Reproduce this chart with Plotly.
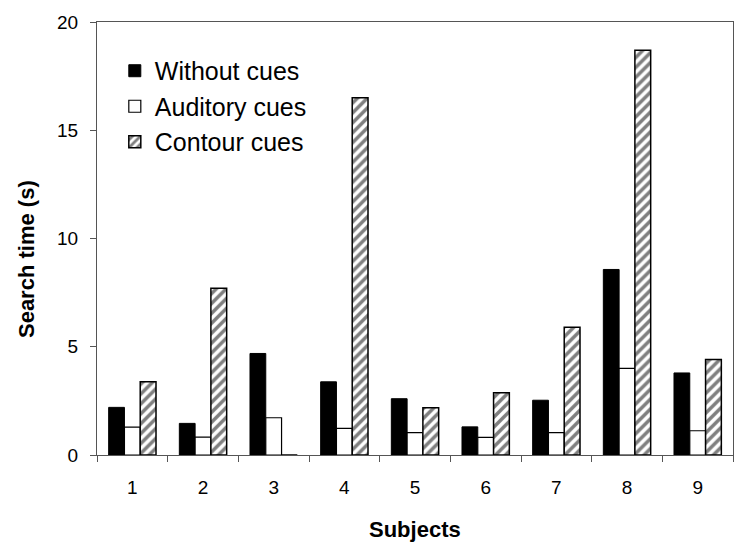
import plotly.graph_objects as go

subjects = ["1", "2", "3", "4", "5", "6", "7", "8", "9"]
without_cues = [2.2, 1.46, 4.69, 3.38, 2.6, 1.3, 2.53, 8.57, 3.79]
auditory_cues = [1.29, 0.83, 1.72, 1.23, 1.03, 0.81, 1.03, 4.0, 1.12]
contour_cues = [3.38, 7.7, 0.0, 16.5, 2.18, 2.87, 5.9, 18.7, 4.41]

font = "Liberation Sans, Arial, sans-serif"

fig = go.Figure()
fig.add_trace(go.Bar(x=subjects, y=without_cues, name="Without cues",
                     marker=dict(color="black", line=dict(color="black", width=1))))
fig.add_trace(go.Bar(x=subjects, y=auditory_cues, name="Auditory cues",
                     marker=dict(color="white", line=dict(color="black", width=1.2))))
fig.add_trace(go.Bar(x=subjects, y=contour_cues, name="Contour cues",
                     marker=dict(color="white", line=dict(color="black", width=1.5),
                                 pattern=dict(shape="/", fgcolor="black", bgcolor="white",
                                              size=7, solidity=0.5))))

fig.update_layout(
    width=740, height=542,
    paper_bgcolor="white", plot_bgcolor="white",
    margin=dict(l=89, r=15, t=14, b=95, autoexpand=False),
    barmode="group", bargap=0.33, bargroupgap=0,
    font=dict(family=font, color="black", size=19),
    legend=dict(x=0.028, y=0.94, xanchor="left", yanchor="top",
                font=dict(size=25, family=font), bgcolor="rgba(0,0,0,0)",
                tracegroupgap=0, itemwidth=30),
    showlegend=True,
    annotations=[
        dict(text="<b>Search time (s)</b>", xref="paper", yref="paper",
             x=-0.110, y=0.4527, xanchor="center", yanchor="middle",
             textangle=-90, showarrow=False, font=dict(size=22, family=font)),
        dict(text="<b>Subjects</b>", xref="paper", yref="paper",
             x=0.5, y=-0.171, xanchor="center", yanchor="middle",
             showarrow=False, font=dict(size=22, family=font)),
    ],
)
fig.update_xaxes(
    type="category", tickson="boundaries", ticks="outside", ticklen=6,
    tickcolor="#555", showline=True, linecolor="#555", linewidth=1, mirror=True,
    showgrid=False, automargin=False, ticklabelstandoff=15,
    tickfont=dict(size=19, family=font),
)
fig.update_yaxes(
    range=[0, 20], tickvals=[0, 5, 10, 15, 20], ticks="outside", ticklen=6,
    tickcolor="#555", showline=True, linecolor="#555", linewidth=1, mirror=True,
    showgrid=False, zeroline=False, automargin=False, ticklabelstandoff=8,
    tickfont=dict(size=19, family=font),
)

fig.write_html("out.html")
